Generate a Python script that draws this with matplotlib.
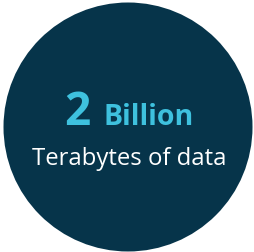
import matplotlib.pyplot as plt
from matplotlib.patches import Circle

# stat content
value = "2"
unit = "Billion"
caption = "Terabytes of data"

bg_color = "#06344a"
accent = "#3ec1de"

fig = plt.figure(figsize=(2.55, 2.53), dpi=100)
ax = fig.add_axes([0, 0, 1, 1])
ax.set_xlim(0, 255)
ax.set_ylim(253, 0)
ax.set_aspect("equal")
ax.axis("off")

ax.add_patch(Circle((128, 128), 124.5, facecolor=bg_color, edgecolor="none"))

ax.text(64, 125, value, color=accent, fontsize=33, fontweight="bold",
        family="Open Sans", ha="left", va="baseline")
ax.text(104, 125, unit, color=accent, fontsize=20.5, fontweight="bold",
        family="Open Sans", ha="left", va="baseline")
ax.text(129, 165, caption, color="white", fontsize=17.2,
        family="Open Sans", ha="center", va="baseline")

fig.savefig("out.png", dpi=100)
